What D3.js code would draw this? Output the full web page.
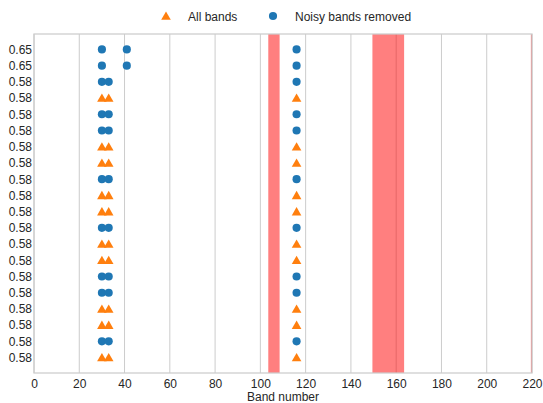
<!DOCTYPE html>
<html>
<head>
<meta charset="utf-8">
<script src="https://cdn.jsdelivr.net/npm/d3@7"></script>
<style>
  html, body { margin: 0; padding: 0; background: #fff; }
  svg { display: block; font-family: "Liberation Sans", Arial, sans-serif; }
</style>
</head>
<body>
<svg id="chart" width="543" height="403"></svg>
<script>
// Row labels (score per run), top to bottom
const rowLabels = ["0.65", "0.65", "0.58", "0.58", "0.58", "0.58", "0.58", "0.58", "0.58", "0.58",
                   "0.58", "0.58", "0.58", "0.58", "0.58", "0.58", "0.58", "0.58", "0.58", "0.58"];
// Which configuration each row belongs to
const rowKinds = ["noisy", "noisy", "noisy", "all", "noisy", "noisy", "all", "all", "noisy", "all",
                  "all", "noisy", "all", "all", "noisy", "noisy", "all", "all", "noisy", "all"];
// Selected band numbers for each row
const rowBands = [
  [30, 41, 116], [30, 41, 116], [30, 33, 116], [30, 33, 116], [30, 33, 116],
  [30, 33, 116], [30, 33, 116], [30, 33, 116], [30, 33, 116], [30, 33, 116],
  [30, 33, 116], [30, 33, 116], [30, 33, 116], [30, 33, 116], [30, 33, 116],
  [30, 33, 116], [30, 33, 116], [30, 33, 116], [30, 33, 116], [30, 33, 116]
];
// Noisy (water absorption) band ranges, inclusive
const noisyRanges = [[104, 108], [150, 163], [220, 220]];
const xTicks = [0, 20, 40, 60, 80, 100, 120, 140, 160, 180, 200, 220];
const legendItems = [
  { kind: "all", label: "All bands" },
  { kind: "noisy", label: "Noisy bands removed" }
];

const colors = { all: "#ff7f0e", noisy: "#1f77b4" };
const textColor = "#262626";
const fontSize = 12;
const W = 543, H = 403;
const margin = { left: 34, right: 11, top: 34, bottom: 30 };
const svg = d3.select("#chart");

const x = d3.scaleLinear().domain([0, 220]).range([margin.left, W - margin.right]);
const rowIdx = d3.range(rowLabels.length);
const y = d3.scalePoint().domain(rowIdx).range([margin.top, H - margin.bottom]).padding(0.95);

// Vertical grid
svg.append("g").selectAll("line").data(xTicks).join("line")
  .attr("x1", d => x(d)).attr("x2", d => x(d))
  .attr("y1", margin.top).attr("y2", H - margin.bottom)
  .attr("stroke", "#cccccc").attr("stroke-width", 1);

// Noisy band spans: each band covers half a unit on either side, clipped to the axes
const [xMin, xMax] = x.range();
svg.append("g").selectAll("rect").data(noisyRanges).join("rect")
  .attr("x", d => Math.max(xMin, x(d[0] - 0.5)))
  .attr("width", d => Math.min(xMax, x(d[1] + 0.5)) - Math.max(xMin, x(d[0] - 0.5)))
  .attr("y", margin.top).attr("height", H - margin.bottom - margin.top)
  .attr("fill", "red").attr("fill-opacity", 0.5);

// Frame
svg.append("rect")
  .attr("x", margin.left).attr("y", margin.top)
  .attr("width", W - margin.right - margin.left)
  .attr("height", H - margin.bottom - margin.top)
  .attr("fill", "none").attr("stroke", "#cccccc").attr("stroke-width", 1.25);

// X axis
const xAxis = svg.append("g")
  .attr("transform", `translate(0,${H - margin.bottom})`)
  .call(d3.axisBottom(x).tickValues(xTicks).tickSize(0).tickPadding(6).tickFormat(d3.format("d")));
xAxis.select(".domain").remove();
xAxis.selectAll("text").attr("font-size", fontSize).attr("fill", textColor)
  .attr("font-family", "Liberation Sans, Arial, sans-serif");

// Y axis
const yAxis = svg.append("g")
  .attr("transform", `translate(${margin.left},0)`)
  .call(d3.axisLeft(y).tickSize(0).tickPadding(2).tickFormat(i => rowLabels[i]));
yAxis.select(".domain").remove();
yAxis.selectAll("text").attr("font-size", fontSize).attr("fill", textColor)
  .attr("font-family", "Liberation Sans, Arial, sans-serif");

// X label
svg.append("text")
  .attr("x", x(110)).attr("y", H - 2)
  .attr("text-anchor", "middle").attr("font-size", fontSize).attr("fill", textColor)
  .text("Band number");

// Markers
const triangle = d3.symbol().type(d3.symbolTriangle).size(40);
const circle = d3.symbol().type(d3.symbolCircle).size(52);
const points = [];
rowIdx.forEach(i => rowBands[i].forEach(b => points.push({ i, b, kind: rowKinds[i] })));
svg.append("g").selectAll("path").data(points).join("path")
  .attr("transform", d => `translate(${x(d.b)},${y(d.i) + (d.kind === "all" ? 1 : 0)})`)
  .attr("d", d => d.kind === "all" ? triangle() : circle())
  .attr("fill", d => colors[d.kind]);

// Legend
const legendPos = [{ mx: 166, tx: 188 }, { mx: 273, tx: 295 }];
const lg = svg.append("g").selectAll("g").data(legendItems).join("g");
lg.append("path")
  .attr("transform", (d, i) => `translate(${legendPos[i].mx},${d.kind === "all" ? 17 : 16})`)
  .attr("d", d => d.kind === "all" ? triangle() : circle())
  .attr("fill", d => colors[d.kind]);
lg.append("text")
  .attr("x", (d, i) => legendPos[i].tx).attr("y", 20.5)
  .attr("font-size", fontSize).attr("fill", textColor)
  .text(d => d.label);
</script>
</body>
</html>
